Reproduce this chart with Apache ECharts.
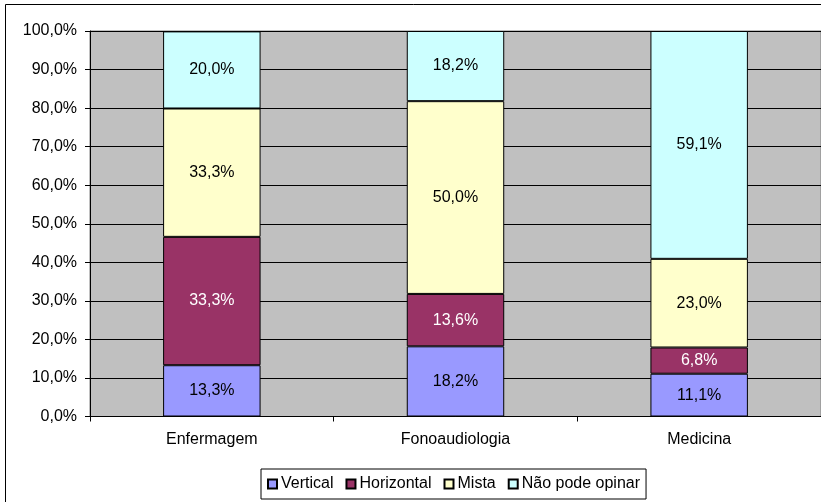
<!DOCTYPE html>
<html>
<head>
<meta charset="utf-8">
<script src="https://cdn.jsdelivr.net/npm/echarts@6/dist/echarts.min.js"></script>
<style>
  html, body { margin: 0; padding: 0; background: #ffffff; }
  #chart { width: 821px; height: 502px; }
</style>
</head>
<body>
<div id="chart"></div>
<script>
// Course categories on the x axis
var courses = ['Enfermagem', 'Fonoaudiologia', 'Medicina'];

// Percentage of answers per option, one value per course
var vertical = [13.3, 18.2, 11.1];
var horizontal = [33.3, 13.6, 6.8];
var mista = [33.3, 50.0, 23.0];
var naoPodeOpinar = [20.0, 18.2, 59.1];

var seriesNames = ['Vertical', 'Horizontal', 'Mista', 'Não pode opinar'];
var seriesData = [vertical, horizontal, mista, naoPodeOpinar];
var seriesColors = ['#9999FF', '#993366', '#FFFFCC', '#CCFFFF'];
var labelColors = ['#000000', '#FFFFFF', '#000000', '#000000'];

var FONT = 'Liberation Sans, Arial, sans-serif';

function pct(v) {
  return v.toFixed(1).replace('.', ',') + '%';
}

var chart = echarts.init(document.getElementById('chart'), null, { renderer: 'canvas' });

var series = seriesNames.map(function (name, i) {
  return {
    name: name,
    type: 'bar',
    stack: 'total',
    barWidth: '40%',
    data: seriesData[i],
    itemStyle: {
      color: seriesColors[i],
      borderColor: '#000000',
      borderWidth: 1
    },
    label: {
      show: true,
      position: 'inside',
      color: labelColors[i],
      fontFamily: FONT,
      fontSize: 16,
      formatter: function (p) { return pct(p.value); }
    },
    emphasis: { disabled: true }
  };
});

chart.setOption({
  animation: false,
  backgroundColor: '#ffffff',
  graphic: [{
    type: 'rect',
    z: -10,
    shape: { x: 5.5, y: 4.5, width: 840, height: 540 },
    style: { fill: 'transparent', stroke: '#000000', lineWidth: 1 },
    silent: true
  }],
  grid: {
    left: 90,
    top: 31,
    width: 732,
    height: 385.5,
    show: true,
    backgroundColor: '#C0C0C0',
    borderColor: '#808080',
    borderWidth: 1
  },
  legend: {
    left: 261,
    top: 469,
    padding: [7, 6, 7, 6],
    borderColor: '#000000',
    borderWidth: 1,
    itemWidth: 9,
    itemHeight: 9,
    itemGap: 12,
    icon: 'rect',
    textStyle: { fontFamily: FONT, fontSize: 16, color: '#000000', padding: [0, 0, 0, -1] },
    data: seriesNames
  },
  xAxis: {
    type: 'category',
    data: courses,
    axisLine: { lineStyle: { color: '#000000', width: 1 } },
    axisTick: { show: true, length: 5, lineStyle: { color: '#000000' } },
    axisLabel: { fontFamily: FONT, fontSize: 16, color: '#000000', margin: 15 },
    splitLine: { show: false }
  },
  yAxis: {
    type: 'value',
    min: 0,
    max: 100,
    interval: 10,
    axisLine: { show: true, lineStyle: { color: '#000000', width: 1 } },
    axisTick: { show: true, length: 5, lineStyle: { color: '#000000' } },
    axisLabel: {
      fontFamily: FONT,
      fontSize: 16,
      color: '#000000',
      margin: 13,
      formatter: function (v) { return pct(v); }
    },
    splitLine: { show: true, lineStyle: { color: '#000000', width: 1 } }
  },
  series: series
});
</script>
</body>
</html>
